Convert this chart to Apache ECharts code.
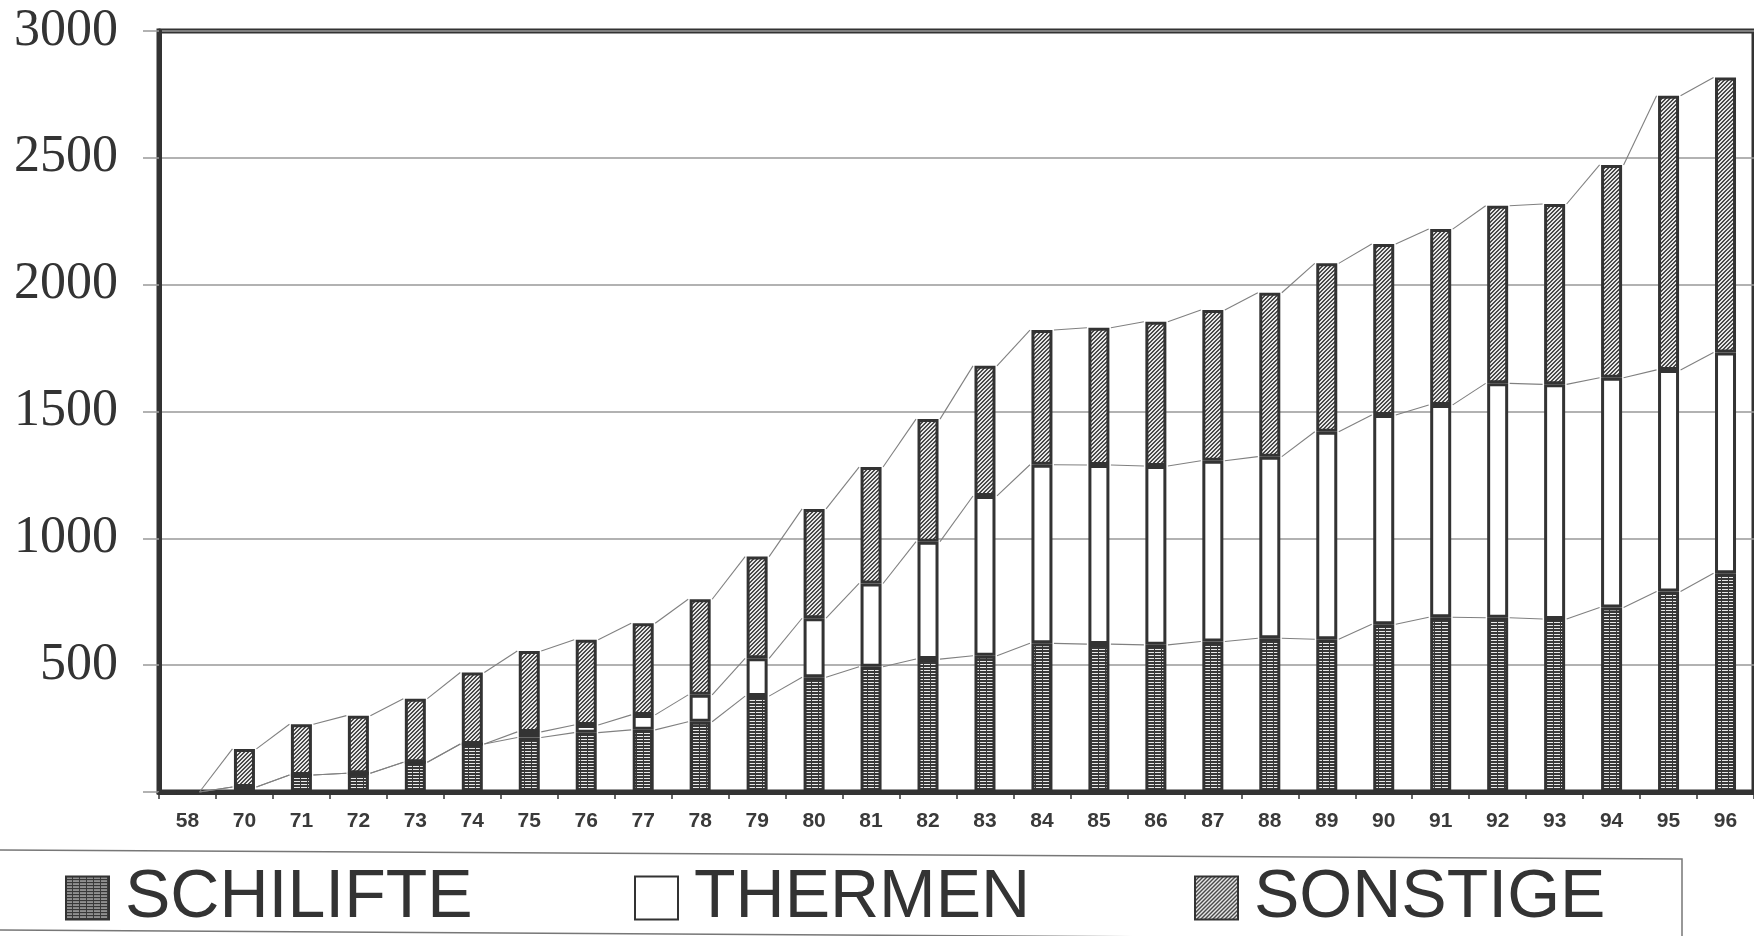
<!DOCTYPE html>
<html><head><meta charset="utf-8">
<script src="https://cdn.jsdelivr.net/npm/echarts@6/dist/echarts.min.js"></script>
<style>html,body{margin:0;padding:0;background:#fff}#c{width:1754px;height:936px}</style>
</head><body><div id="c"></div>
<script>
const categories = ['58','70','71','72','73','74','75','76','77','78','79','80','81','82','83','84','85','86','87','88','89','90','91','92','93','94','95','96'];
const schilifte = [0, 20, 67, 74, 117, 189, 215, 234, 245, 277, 378, 452, 494, 524, 537, 586, 583, 580, 593, 606, 602, 661, 689, 687, 682, 727, 790, 862];
const thermen   = [0, 0, 0, 0, 0, 0, 22, 30, 59, 106, 149, 233, 328, 463, 630, 704, 706, 705, 713, 716, 818, 825, 837, 924, 925, 906, 874, 871];
const sonstige  = [0, 150, 200, 227, 251, 282, 319, 336, 361, 377, 401, 431, 459, 483, 513, 531, 541, 569, 594, 646, 664, 674, 693, 700, 711, 839, 1081, 1084];
const seriesNames = ['SCHILIFTE', 'THERMEN', 'SONSTIGE'];

function makePattern(kind) {
  const c = document.createElement('canvas');
  const ctx = c.getContext('2d');
  if (kind === 'stripes') {
    c.width = 7; c.height = 3;
    ctx.fillStyle = '#383838'; ctx.fillRect(0, 0, 7, 3);
    ctx.fillStyle = '#e8e8e8'; ctx.fillRect(0, 1, 6, 1);
  } else if (kind === 'hatch') {
    c.width = 4; c.height = 4;
    ctx.fillStyle = '#e6e6e6'; ctx.fillRect(0, 0, 4, 4);
    ctx.fillStyle = '#4a4a4a';
    for (let r = 0; r < 4; r++) {
      ctx.fillRect((3 - r + 4) % 4, r, 1, 1);
      ctx.fillRect((4 - r + 4) % 4, r, 1, 1);
    }
  }
  return { image: c, repeat: 'repeat' };
}

const cum1 = schilifte.slice();
const cum2 = schilifte.map((v, i) => v + thermen[i]);
const cum3 = cum2.map((v, i) => v + sonstige[i]);

function linkSeries(levels) {
  return {
    type: 'custom', silent: true, z: 1,
    data: levels.slice(0, -1).map((v, i) => [i, v, levels[i + 1]]),
    renderItem(params, api) {
      const i = params.dataIndex;
      const p1 = api.coord([i, api.value(1)]);
      const p2 = api.coord([i + 1, api.value(2)]);
      const h = 12;
      return { type: 'line', shape: { x1: p1[0] + h, y1: p1[1], x2: p2[0] - h, y2: p2[1] },
               style: { stroke: '#808080', lineWidth: 1.1 } };
    }
  };
}

const barStyle = (col) => ({ color: col, borderColor: '#333', borderWidth: 3 });
const legendCommon = {
  orient: 'horizontal', padding: 0, itemWidth: 43, itemHeight: 43, icon: 'rect',
  selectedMode: false, top: 864,
  textStyle: { fontFamily: 'Liberation Sans', fontSize: 68, color: '#333', padding: [0, 0, 0, 11] }
};

const chart = echarts.init(document.getElementById('c'), null, { renderer: 'canvas' });
chart.setOption({
  backgroundColor: '#fff',
  animation: false,
  grid: { left: 159, top: 31, right: -4, bottom: 144, show: true, borderColor: '#333', borderWidth: 5 },
  legend: [
    Object.assign({ data: [seriesNames[0]], left: 65 }, legendCommon),
    Object.assign({ data: [seriesNames[1]], left: 634 }, legendCommon),
    Object.assign({ data: [seriesNames[2]], left: 1194 }, legendCommon)
  ],
  graphic: [{
    type: 'polygon', silent: true, z: -1,
    shape: { points: [[-10, 850], [1682, 859], [1682, 940], [-10, 930]] },
    style: { fill: 'none', stroke: '#777', lineWidth: 1.5 }
  }],
  xAxis: {
    type: 'category', data: categories,
    axisLine: { lineStyle: { color: '#333', width: 5 } },
    axisTick: { show: true, length: 7, lineStyle: { color: '#333', width: 1.5 } },
    axisLabel: { fontFamily: 'Liberation Sans', fontSize: 21, fontWeight: 'bold', color: '#3a3a3a', margin: 19 }
  },
  yAxis: {
    type: 'value', min: 0, max: 3000, interval: 500,
    axisLine: { show: true, lineStyle: { color: '#333', width: 5 } },
    axisTick: { show: true, length: 16, lineStyle: { color: '#999', width: 1.5 } },
    splitLine: { lineStyle: { color: '#999', width: 1.5 } },
    axisLabel: { fontFamily: 'Liberation Serif', fontSize: 52, color: '#333', margin: 41,
                 formatter: v => (v === 0 ? '' : String(v)) }
  },
  series: [
    { name: seriesNames[0], type: 'bar', stack: 'a', barWidth: 21, data: schilifte, itemStyle: barStyle(makePattern('stripes')), z: 3 },
    { name: seriesNames[1], type: 'bar', stack: 'a', barWidth: 21, data: thermen, itemStyle: barStyle('#ffffff'), z: 3 },
    { name: seriesNames[2], type: 'bar', stack: 'a', barWidth: 21, data: sonstige, itemStyle: barStyle(makePattern('hatch')), z: 3 },
    linkSeries(cum1), linkSeries(cum2), linkSeries(cum3)
  ]
});
</script></body></html>
